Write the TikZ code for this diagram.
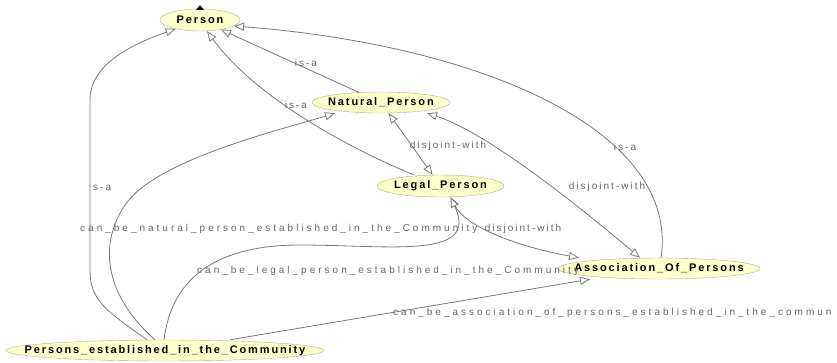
\documentclass[tikz,border=0pt]{standalone}
\usepackage{fontspec}
\setmainfont{Liberation Sans}
\newfontfamily\classfont[LetterSpace=17]{Liberation Sans}
\newfontfamily\relfont[LetterSpace=20]{Liberation Sans}
\newfontfamily\propfont[LetterSpace=30]{Liberation Sans}
\usetikzlibrary{arrows.meta,shapes.geometric}
\definecolor{ClassBG}{HTML}{FFFFCC}
\definecolor{ClassFrame}{HTML}{B0B088}
\definecolor{EdgeGray}{HTML}{787878}
\definecolor{LabelGray}{HTML}{666666}

\tikzset{
  % class ellipse keeps its given size, the name may run past it
  cls/.style={ellipse,draw=ClassFrame,fill=ClassBG,inner sep=0pt,
    font=\classfont\bfseries\fontsize{11}{13}\selectfont,
    execute at begin node={\hbox to 0pt\bgroup\hss},
    execute at end node={\hss\egroup}},
  rel/.style={draw=EdgeGray,line width=0.8pt},
  isa/.style={rel,-{Triangle[length=10pt,width=8pt,fill=white]}},
  dis/.style={rel,{Triangle[length=10pt,width=8pt,fill=white]}-{Triangle[length=10pt,width=8pt,fill=white]}},
  lbl/.style={text=LabelGray,inner sep=0pt,font=\relfont\fontsize{10}{12}\selectfont},
  prop/.style={lbl,anchor=west,font=\propfont\fontsize{10}{12}\selectfont},
}

\begin{document}
\begin{tikzpicture}[x=1pt,y=-1pt]
  \useasboundingbox (0,0) rectangle (837,362);

  % --- classes ---
  \node[cls,minimum width=80pt,minimum height=22pt]  (person)  at (200,20)    {Person};
  \node[cls,minimum width=138pt,minimum height=21pt] (natural) at (381,102.5) {Natural\_Person};
  \node[cls,minimum width=127pt,minimum height=22pt] (legal)   at (440.5,186) {Legal\_Person};
  \node[cls,minimum width=202pt,minimum height=21pt] (assoc)   at (659,268.5) {Association\_Of\_Persons};
  \node[cls,minimum width=318pt,minimum height=21pt] (pec)     at (165,350.5) {Persons\_established\_in\_the\_Community};
  % collapsed parent marker
  \fill[black] ([shift={(-4pt,-1pt)}]person.north) -- ([shift={(4pt,-1pt)}]person.north)
    -- ([yshift=3.5pt]person.north) -- cycle;

  % --- is-a ---
  \draw[isa] (natural) -- (person);
  \draw[isa] ([xshift=-27pt]legal.north) .. controls (330,140) and (250,90) .. ([xshift=7pt]person.south);
  \draw[isa] ([xshift=2pt]assoc.north) .. controls (680,130) and (480,45) .. (person.-10);
  \draw[isa] ([xshift=-18pt]pec.north) .. controls (105,310) and (90,300) .. (90,270)
    -- (90,100) .. controls (90,65) and (130,45) .. (person.-160);

  % --- disjoint-with ---
  \draw[dis] (natural) -- (legal);
  \draw[dis] ([xshift=46pt]natural.south) .. controls (480,130) and (560,190) .. ([xshift=-19pt]assoc.north);
  \draw[dis] ([xshift=10pt]legal.south) .. controls (465,225) and (510,245) .. ([xshift=-80pt]assoc.north);

  % --- object properties ---
  \draw[isa] ([xshift=-10pt]pec.north) .. controls (110,300) and (95,250) .. (125,205)
    .. controls (155,160) and (280,130) .. ([xshift=-46pt]natural.south);
  \draw[isa] ([xshift=-1pt]pec.north) .. controls (172,275) and (220,245) .. (300,245)
    .. controls (390,245) and (480,260) .. ([xshift=10pt]legal.south);
  \draw[isa] ([xshift=65pt]pec.north) -- ([xshift=-69pt]assoc.south);

  % --- edge labels ---
  \node[lbl] (natural-isa) at (306,63)  {is-a};
  \node[lbl] (legal-isa)   at (296,105) {is-a};
  \node[lbl] (assoc-isa)   at (625,147) {is-a};
  \node[lbl,anchor=west] (pec-isa) at (93,188) {s-a};
  \node[lbl] (natural-legal-dis) at (448,146) {disjoint-with};
  \node[lbl] (natural-assoc-dis) at (607,187) {disjoint-with};
  \node[lbl] (legal-assoc-dis)   at (523,229) {disjoint-with};
  \node[prop] (pec-natural) at (80,229)
    {can\_be\_natural\_person\_established\_in\_the\_Community};
  \node[prop] (pec-legal) at (197,271)
    {can\_be\_legal\_person\_established\_in\_the\_Community};
  \node[prop] (pec-assoc) at (393,313)
    {can\_be\_association\_of\_persons\_established\_in\_the\_commun};
\end{tikzpicture}
\end{document}
